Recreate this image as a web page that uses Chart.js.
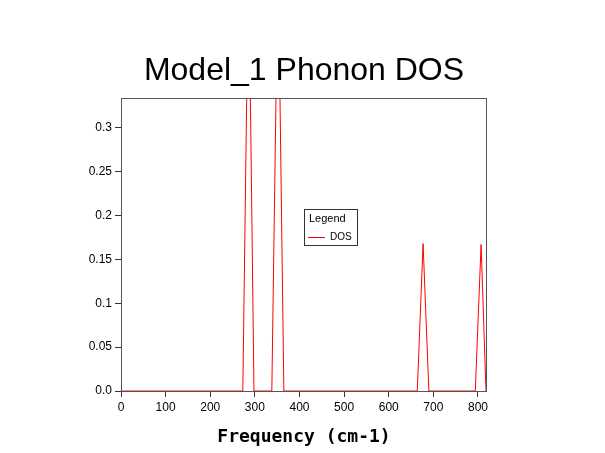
<!DOCTYPE html>
<html>
<head>
<script src="https://cdn.jsdelivr.net/npm/chart.js@4/dist/chart.umd.min.js"></script>
<style>
  body { margin: 0; background: #fff; }
  #wrap { width: 605px; height: 453px; }
</style>
</head>
<body>
<div id="wrap"><canvas id="c"></canvas></div>
<script>
// === DATA ===
const freq = [0, 273, 286, 298, 338, 352, 365, 664, 677, 690, 794, 807, 818];
const dos = [0, 0, 0.5, 0, 0, 0.5, 0, 0, 0.168, 0, 0, 0.167, 0];
const xTicks = [0, 100, 200, 300, 400, 500, 600, 700, 800];
const yTicks = [0, 0.05, 0.1, 0.15, 0.2, 0.25, 0.3];
const yLabels = ['0.0', '0.05', '0.1', '0.15', '0.2', '0.25', '0.3'];

// === EXTRA DRAWING (frame, title, legend) ===
const decor = {
  id: 'decor',
  afterDraw(chart) {
    const ctx = chart.ctx, a = chart.chartArea;
    ctx.save();
    ctx.strokeStyle = '#555';
    ctx.lineWidth = 1;
    ctx.strokeRect(a.left + 0.5, a.top + 0.5, a.right - a.left, a.bottom - a.top);
    ctx.fillStyle = '#000';
    ctx.textAlign = 'center';
    ctx.textBaseline = 'middle';
    ctx.font = '32px "Liberation Sans", Arial, sans-serif';
    ctx.fillText('Model_1 Phonon DOS', 304, 71);
    ctx.font = 'bold 18px "DejaVu Sans Mono", monospace';
    ctx.fillText('Frequency (cm-1)', 304, 437);
    // legend box
    ctx.strokeStyle = '#333';
    ctx.strokeRect(304.5, 209.5, 53, 36);
    ctx.textAlign = 'left';
    ctx.font = '11px "Liberation Sans", Arial, sans-serif';
    ctx.fillText('Legend', 309, 219);
    ctx.font = '10px "Liberation Sans", Arial, sans-serif';
    ctx.fillText('DOS', 330, 237);
    ctx.strokeStyle = 'red';
    ctx.beginPath(); ctx.moveTo(308, 237.5); ctx.lineTo(325, 237.5); ctx.stroke();
    ctx.restore();
  }
};

new Chart(document.getElementById('c'), {
  type: 'line',
  data: {
    datasets: [{
      label: 'DOS',
      data: freq.map((f, i) => ({ x: f, y: dos[i] })),
      borderColor: 'red',
      borderWidth: 1,
      pointRadius: 0,
      tension: 0
    }]
  },
  options: {
    responsive: true,
    maintainAspectRatio: false,
    animation: false,
    layout: { padding: { top: 98, right: 119, left: 0, bottom: 0 } },
    plugins: { legend: { display: false }, tooltip: { enabled: false } },
    scales: {
      x: {
        type: 'linear', min: 0, max: 818,
        afterBuildTicks: s => { s.ticks = xTicks.map(v => ({ value: v })); },
        afterFit: s => { s.height = 62; },
        grid: { drawOnChartArea: false, tickLength: 6, color: '#333' },
        border: { color: '#555' },
        ticks: { color: '#000', font: { size: 12, family: 'Liberation Sans' }, maxRotation: 0 }
      },
      y: {
        min: 0, max: 0.334,
        afterBuildTicks: s => { s.ticks = yTicks.map(v => ({ value: v })); },
        afterFit: s => { s.width = 121; },
        grid: { drawOnChartArea: false, tickLength: 6, color: '#333' },
        border: { color: '#555' },
        ticks: {
          color: '#000', font: { size: 12, family: 'Liberation Sans' },
          callback: v => yLabels[yTicks.findIndex(t => Math.abs(t - v) < 1e-9)]
        }
      }
    }
  },
  plugins: [decor]
});
</script>
</body>
</html>
